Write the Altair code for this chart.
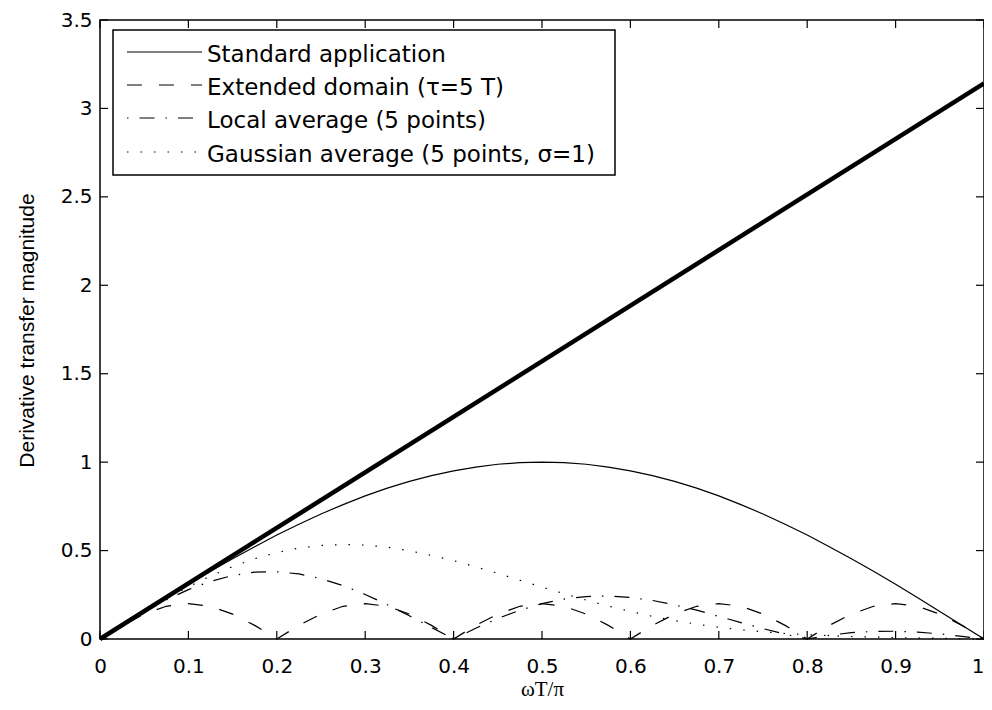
import altair as alt
import pandas as pd

# ---- data ----
x_grid = [0.0, 0.025, 0.05, 0.075, 0.1, 0.125, 0.15, 0.175, 0.2, 0.225,
          0.25, 0.275, 0.3, 0.325, 0.35, 0.375, 0.4, 0.425, 0.45, 0.475,
          0.5, 0.525, 0.55, 0.575, 0.6, 0.625, 0.65, 0.675, 0.7, 0.725,
          0.75, 0.775, 0.8, 0.825, 0.85, 0.875, 0.9, 0.925, 0.95, 0.975, 1.0]

ideal_x = [0.0, 1.0]
ideal_y = [0.0, 3.1416]

standard = [0.0, 0.078, 0.156, 0.233, 0.309, 0.383, 0.454, 0.522, 0.588, 0.649,
            0.707, 0.760, 0.809, 0.853, 0.891, 0.924, 0.951, 0.972, 0.988, 0.997,
            1.000, 0.997, 0.988, 0.972, 0.951, 0.924, 0.891, 0.853, 0.809, 0.760,
            0.707, 0.649, 0.588, 0.522, 0.454, 0.383, 0.309, 0.233, 0.156, 0.078, 0.0]

extended = [0.0, 0.077, 0.141, 0.185, 0.200, 0.185, 0.141, 0.077,
            0.0, 0.077, 0.141, 0.185, 0.200, 0.185, 0.141, 0.077,
            0.0, 0.077, 0.141, 0.185, 0.200, 0.185, 0.141, 0.077,
            0.0, 0.077, 0.141, 0.185, 0.200, 0.185, 0.141, 0.077,
            0.0, 0.077, 0.141, 0.185, 0.200, 0.185, 0.141, 0.077, 0.0]

local_avg = [0.0, 0.078, 0.153, 0.221, 0.279, 0.326, 0.359, 0.378, 0.380, 0.368,
             0.341, 0.302, 0.252, 0.194, 0.131, 0.065, 0.0, 0.061, 0.116, 0.163,
             0.200, 0.226, 0.240, 0.243, 0.235, 0.218, 0.193, 0.163, 0.128, 0.093,
             0.059, 0.027, 0.0, 0.021, 0.036, 0.043, 0.044, 0.039, 0.029, 0.015, 0.0]

gaussian = [0.0, 0.078, 0.155, 0.228, 0.295, 0.356, 0.409, 0.454, 0.489, 0.514,
            0.529, 0.534, 0.531, 0.519, 0.499, 0.473, 0.443, 0.408, 0.371, 0.332,
            0.294, 0.256, 0.220, 0.186, 0.156, 0.128, 0.104, 0.084, 0.066, 0.052,
            0.041, 0.031, 0.024, 0.019, 0.014, 0.011, 0.008, 0.006, 0.004, 0.002, 0.0]

x_ticks = [0, 0.1, 0.2, 0.3, 0.4, 0.5, 0.6, 0.7, 0.8, 0.9, 1.0]
y_ticks = [0, 0.5, 1.0, 1.5, 2.0, 2.5, 3.0, 3.5]

legend_labels = ["Standard application",
                 "Extended domain (τ=5 T)",
                 "Local average (5 points)",
                 "Gaussian average (5 points, σ=1)"]

# ---- styling ----
W, H = 884, 619
DASHES = [None, [15, 17], [1.5, 11, 15, 11], [1.5, 12]]
LINE_W = 1.2

xs = alt.Scale(domain=[0, 1], nice=False, zero=False)
ys = alt.Scale(domain=[0, 3.5], nice=False, zero=False)

x_axis = alt.Axis(values=x_ticks, format="~g", ticks=False, tickSize=0, domain=False,
                  grid=False, labelFont="DejaVu Sans", labelFontSize=20,
                  labelColor="black", labelPadding=17, labelFlush=False,
                  labelOverlap=False,
                  labelAlign={"expr": "datum.value >= 1 ? 'right' : 'center'"},
                  title="ωT/π", titleFont="Liberation Serif",
                  titleFontSize=21, titleFontWeight="normal", titleColor="black",
                  titleX=W / 2, titleY=56.5, titleBaseline="alphabetic", titleAlign="center")
y_axis = alt.Axis(values=y_ticks, format="~g", ticks=False, tickSize=0, domain=False,
                  grid=False, labelFont="DejaVu Sans", labelFontSize=20,
                  labelColor="black", labelPadding=8, labelFlush=False,
                  labelOverlap=False, title="Derivative transfer magnitude",
                  titleFont="Liberation Sans", titleFontSize=21,
                  titleFontWeight="normal", titleColor="black", titleX=-67,
                  titleY=310, titleBaseline="alphabetic", titleAlign="center",
                  titleAngle=270)


def enc_xy(chart):
    return chart.encode(x=alt.X("x:Q", scale=xs, axis=x_axis),
                        y=alt.Y("y:Q", scale=ys, axis=y_axis))


layers = []

series = [standard, extended, local_avg, gaussian]
for vals, dash in zip(series, DASHES):
    df = pd.DataFrame({"x": x_grid, "y": vals})
    kw = dict(color="black", strokeWidth=LINE_W)
    if dash is not None:
        kw["strokeDash"] = dash
    layers.append(enc_xy(alt.Chart(df).mark_line(**kw)))

ideal_df = pd.DataFrame({"x": ideal_x, "y": ideal_y})
layers.append(enc_xy(alt.Chart(ideal_df).mark_line(color="black", strokeWidth=4.5)))

# inward tick marks on all four sides
xt = pd.DataFrame({"x": x_ticks})
yt = pd.DataFrame({"y": y_ticks})
tick_kw = dict(color="black", strokeWidth=1.2)
xenc = alt.X("x:Q", scale=xs, axis=x_axis)
yenc = alt.Y("y:Q", scale=ys, axis=y_axis)
layers.append(alt.Chart(xt).mark_rule(**tick_kw).encode(x=xenc, y=alt.value(H), y2=alt.value(H - 8)))
layers.append(alt.Chart(xt).mark_rule(**tick_kw).encode(x=xenc, y=alt.value(0), y2=alt.value(8)))
layers.append(alt.Chart(yt).mark_rule(**tick_kw).encode(y=yenc, x=alt.value(0), x2=alt.value(8)))
layers.append(alt.Chart(yt).mark_rule(**tick_kw).encode(y=yenc, x=alt.value(W), x2=alt.value(W - 8)))

# legend box
one = pd.DataFrame({"a": [0]})
layers.append(alt.Chart(one).mark_rect(fill="white", stroke="black", strokeWidth=1.5).encode(
    x=alt.value(13), x2=alt.value(515), y=alt.value(10), y2=alt.value(155)))

row_line_y = [32, 65, 98, 132]
for lab, dash, ly in zip(legend_labels, DASHES, row_line_y):
    kw = dict(color="black", strokeWidth=LINE_W)
    if dash is not None:
        kw["strokeDash"] = dash
    layers.append(alt.Chart(one).mark_rule(**kw).encode(
        x=alt.value(27), x2=alt.value(102), y=alt.value(ly)))
    layers.append(alt.Chart(pd.DataFrame({"label": [lab]})).mark_text(
        align="left", baseline="middle", font="DejaVu Sans", fontSize=23,
        color="black").encode(x=alt.value(107), y=alt.value(ly + 3), text="label:N"))

chart = alt.layer(*layers).properties(
    width=W, height=H,
    padding={"left": 92, "top": 12, "right": 0, "bottom": 61},
    autosize=alt.AutoSizeParams(type="none"),
    background="white",
).configure_view(stroke="black", strokeWidth=1.5)

chart.save("out.html", embed_options={"renderer": "svg", "actions": False})
